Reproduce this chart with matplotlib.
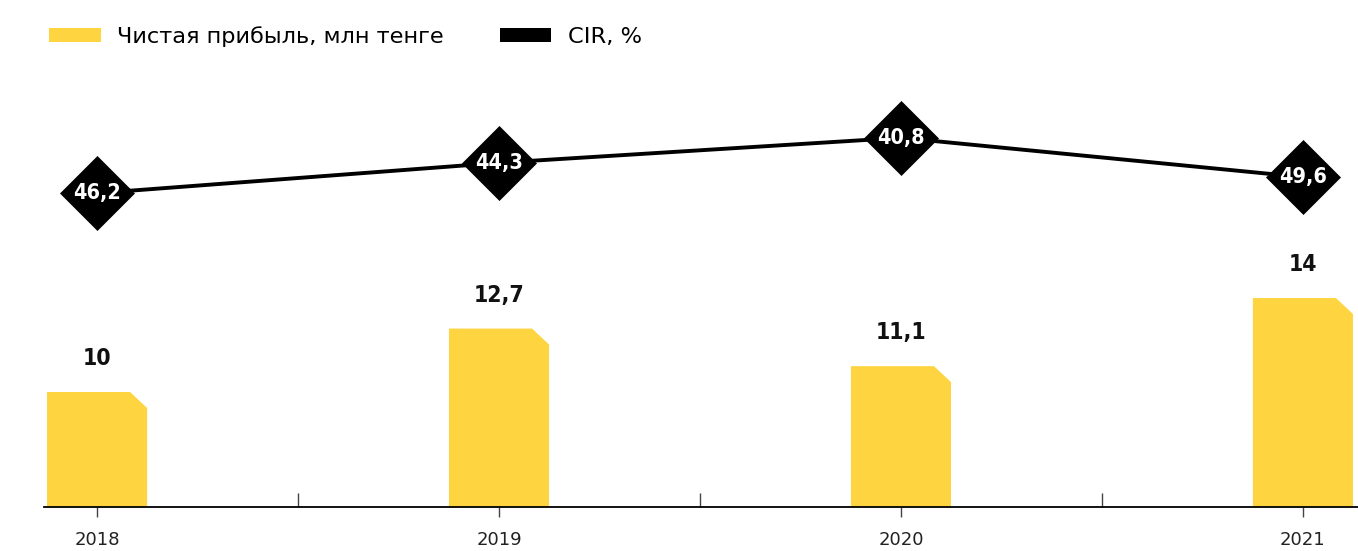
import matplotlib.pyplot as plt
import numpy as np
from matplotlib.patches import Patch, Polygon

# --- Data ---
years = ['2018', '2019', '2020', '2021']
profit = [10, 12.7, 11.1, 14]            # Чистая прибыль, млн тенге
cir = [46.2, 44.3, 40.8, 49.6]           # CIR, %
cir_level = [70.2, 77.0, 82.6, 73.8]     # line height as drawn in the source (0-100 scale)

YELLOW = '#FED541'
BLACK = '#000000'

def fmt(v):
    return f'{v:g}'.replace('.', ',')

# --- Plot ---
fig = plt.figure(figsize=(13.58, 5.51), dpi=100)
ax = fig.add_axes([44 / 1358, 44 / 551, 1314 / 1358, 447 / 551])
x = np.arange(len(years))
ax.set_xlim(-0.132, 3.137)
ax.set_ylim(5.106, 24.13)

bars = ax.bar(x, profit, width=0.249, color=YELLOW)
cut_x, cut_y = 0.0423, 0.68
for b in bars:
    x0, w, h = b.get_x(), b.get_width(), b.get_height()
    b.set_visible(False)
    ax.add_patch(Polygon([(x0, 0), (x0, h), (x0 + w - cut_x, h),
                          (x0 + w, h - cut_y), (x0 + w, 0)],
                         closed=True, facecolor=YELLOW, edgecolor='none'))

for xi, v in zip(x, profit):
    ax.annotate(fmt(v), (xi, v), xytext=(0, 24), textcoords='offset points',
                ha='center', va='center', fontsize=16.5, fontweight='bold',
                family='DejaVu Sans', fontstretch='condensed', color='#111111')

for s in ['top', 'right', 'left']:
    ax.spines[s].set_visible(False)
ax.spines['bottom'].set_linewidth(1.3)
ax.set_yticks([])
ax.set_xticks(x)
ax.set_xticklabels(years, fontsize=13, family='DejaVu Sans', color='#222222')
ax.tick_params(axis='x', which='major', direction='out', length=7, width=1,
               color='#444444', pad=10)
ax.set_xticks(x[:-1] + 0.5, minor=True)
ax.tick_params(axis='x', which='minor', direction='in', length=10, width=1,
               color='#444444')

# CIR line on its own scale
ax2 = ax.twinx()
ax2.set_ylim(0, 100)
ax2.axis('off')
ax2.plot(x, cir_level, color=BLACK, lw=2.8, marker='D', ms=38,
         mfc=BLACK, mec=BLACK, mew=0.5, solid_capstyle='butt')
for xi, lvl, v in zip(x, cir_level, cir):
    ax2.text(xi, lvl, fmt(v), ha='center', va='center', color='white',
             fontsize=15.5, fontweight='bold', family='DejaVu Sans',
             fontstretch='condensed')

handles = [Patch(facecolor=YELLOW, edgecolor='none'),
           Patch(facecolor=BLACK, edgecolor='none')]
fig.legend(handles, ['Чистая прибыль, млн тенге', 'CIR, %'],
           loc='upper left', bbox_to_anchor=(0.021, 0.99), ncol=2,
           frameon=False, prop={'family': 'DejaVu Sans', 'size': 16.2},
           handlelength=2.3, handleheight=0.58, handletextpad=0.72,
           columnspacing=2.5)

plt.savefig('out.png', dpi=100)
